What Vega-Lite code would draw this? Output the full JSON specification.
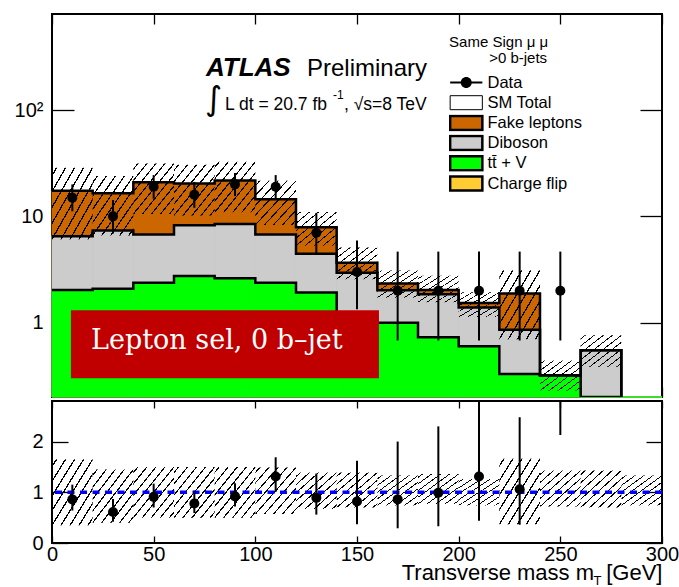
{
  "$schema": "https://vega.github.io/schema/vega-lite/v6.json",
  "padding": {"left": 13, "top": 12, "right": 5, "bottom": 0},
  "config": {
    "font": "Liberation Sans",
    "view": {"stroke": "black", "strokeWidth": 2},
    "axis": {"grid": false, "domain": false, "zindex": 2, "ticks": true, "tickColor": "#000000", "tickWidth": 1.3, "tickOpacity": 1, "labelColor": "black", "labelFont": "Liberation Sans", "labelFontSize": 20, "titleColor": "black", "titleFont": "Liberation Sans", "titleFontWeight": "normal"}
  },
  "datasets": {
    "bins": [
      {"lo":0,"hi":20,"mT":10,"data":15,"dlo":11.16,"dhi":19.97,"blo":6.1,"bhi":28.7,"ratio":0.86,"rlo":0.64,"rhi":1.15,"rblo":0.35,"rbhi":1.65},
      {"lo":20,"hi":40,"mT":30,"data":10,"dlo":6.88,"dhi":14.28,"blo":6.6,"bhi":23.9,"ratio":0.61,"rlo":0.42,"rhi":0.87,"rblo":0.40,"rbhi":1.45},
      {"lo":40,"hi":60,"mT":50,"data":19,"dlo":14.67,"dhi":24.44,"blo":10.5,"bhi":31.4,"ratio":0.91,"rlo":0.70,"rhi":1.17,"rblo":0.50,"rbhi":1.50},
      {"lo":60,"hi":80,"mT":70,"data":16,"dlo":12.03,"dhi":21.09,"blo":10.2,"bhi":30.6,"ratio":0.78,"rlo":0.59,"rhi":1.03,"rblo":0.50,"rbhi":1.50},
      {"lo":80,"hi":100,"mT":90,"data":20,"dlo":15.56,"dhi":25.56,"blo":10.9,"bhi":32.6,"ratio":0.92,"rlo":0.72,"rhi":1.18,"rblo":0.50,"rbhi":1.50},
      {"lo":100,"hi":120,"mT":110,"data":19,"dlo":14.67,"dhi":24.44,"blo":8.3,"bhi":21.6,"ratio":1.31,"rlo":1.01,"rhi":1.69,"rblo":0.57,"rbhi":1.49},
      {"lo":120,"hi":140,"mT":130,"data":7,"dlo":4.4,"dhi":10.78,"blo":5.3,"bhi":11.0,"ratio":0.89,"rlo":0.56,"rhi":1.37,"rblo":0.67,"rbhi":1.39},
      {"lo":140,"hi":160,"mT":150,"data":3,"dlo":1.34,"dhi":5.94,"blo":2.56,"bhi":5.1,"ratio":0.82,"rlo":0.37,"rhi":1.62,"rblo":0.70,"rbhi":1.39},
      {"lo":160,"hi":180,"mT":170,"data":2,"dlo":0.68,"dhi":4.66,"blo":1.72,"bhi":3.1,"ratio":0.86,"rlo":0.29,"rhi":2.0,"rblo":0.74,"rbhi":1.33},
      {"lo":180,"hi":200,"mT":190,"data":2,"dlo":0.68,"dhi":4.66,"blo":1.56,"bhi":2.76,"ratio":0.99,"rlo":0.33,"rhi":2.30,"rblo":0.77,"rbhi":1.36},
      {"lo":200,"hi":220,"mT":210,"data":2,"dlo":0.68,"dhi":4.66,"blo":1.13,"bhi":1.93,"ratio":1.31,"rlo":0.44,"rhi":3.05,"rblo":0.74,"rbhi":1.26},
      {"lo":220,"hi":240,"mT":230,"data":2,"dlo":0.68,"dhi":4.66,"blo":0.70,"bhi":3.12,"ratio":1.06,"rlo":0.36,"rhi":2.48,"rblo":0.37,"rbhi":1.66},
      {"lo":240,"hi":260,"mT":250,"data":2,"dlo":0.68,"dhi":4.66,"blo":0.23,"bhi":0.44,"ratio":6.25,"rlo":2.13,"rhi":14.6,"rblo":0.72,"rbhi":1.43},
      {"lo":260,"hi":280,"mT":270,"data":null,"dlo":null,"dhi":null,"blo":0.385,"bhi":0.76,"ratio":null,"rlo":null,"rhi":null,"rblo":0.70,"rbhi":1.43},
      {"lo":280,"hi":300,"mT":290,"data":null,"dlo":null,"dhi":null,"blo":null,"bhi":null,"ratio":null,"rlo":null,"rhi":null,"rblo":0.74,"rbhi":1.33}
    ],
    "stack": [
      {"lo":0,"hi":20,"process":"Fake leptons","cumulative":17.4},
      {"lo":20,"hi":40,"process":"Fake leptons","cumulative":16.5},
      {"lo":40,"hi":60,"process":"Fake leptons","cumulative":20.9},
      {"lo":60,"hi":80,"process":"Fake leptons","cumulative":20.4},
      {"lo":80,"hi":100,"process":"Fake leptons","cumulative":21.7},
      {"lo":100,"hi":120,"process":"Fake leptons","cumulative":14.5},
      {"lo":120,"hi":140,"process":"Fake leptons","cumulative":7.89},
      {"lo":140,"hi":160,"process":"Fake leptons","cumulative":3.66},
      {"lo":160,"hi":180,"process":"Fake leptons","cumulative":2.33},
      {"lo":180,"hi":200,"process":"Fake leptons","cumulative":2.03},
      {"lo":200,"hi":220,"process":"Fake leptons","cumulative":1.53},
      {"lo":220,"hi":240,"process":"Fake leptons","cumulative":1.88},
      {"lo":240,"hi":260,"process":"Fake leptons","cumulative":0.32},
      {"lo":260,"hi":280,"process":"Fake leptons","cumulative":0.55},
      {"lo":280,"hi":300,"process":"Fake leptons","cumulative":0.1},
      {"lo":0,"hi":20,"process":"Diboson","cumulative":6.5},
      {"lo":20,"hi":40,"process":"Diboson","cumulative":7.35},
      {"lo":40,"hi":60,"process":"Diboson","cumulative":6.74},
      {"lo":60,"hi":80,"process":"Diboson","cumulative":8.25},
      {"lo":80,"hi":100,"process":"Diboson","cumulative":8.48},
      {"lo":100,"hi":120,"process":"Diboson","cumulative":6.74},
      {"lo":120,"hi":140,"process":"Diboson","cumulative":4.44},
      {"lo":140,"hi":160,"process":"Diboson","cumulative":2.95},
      {"lo":160,"hi":180,"process":"Diboson","cumulative":2.02},
      {"lo":180,"hi":200,"process":"Diboson","cumulative":1.85},
      {"lo":200,"hi":220,"process":"Diboson","cumulative":1.39},
      {"lo":220,"hi":240,"process":"Diboson","cumulative":0.86},
      {"lo":240,"hi":260,"process":"Diboson","cumulative":0.32},
      {"lo":260,"hi":280,"process":"Diboson","cumulative":0.55},
      {"lo":280,"hi":300,"process":"Diboson","cumulative":0.1},
      {"lo":0,"hi":20,"process":"tt̄ + V","cumulative":2.03},
      {"lo":20,"hi":40,"process":"tt̄ + V","cumulative":2.09},
      {"lo":40,"hi":60,"process":"tt̄ + V","cumulative":2.38},
      {"lo":60,"hi":80,"process":"tt̄ + V","cumulative":2.75},
      {"lo":80,"hi":100,"process":"tt̄ + V","cumulative":2.62},
      {"lo":100,"hi":120,"process":"tt̄ + V","cumulative":2.38},
      {"lo":120,"hi":140,"process":"tt̄ + V","cumulative":1.92},
      {"lo":140,"hi":160,"process":"tt̄ + V","cumulative":1.15},
      {"lo":160,"hi":180,"process":"tt̄ + V","cumulative":1.0},
      {"lo":180,"hi":200,"process":"tt̄ + V","cumulative":0.73},
      {"lo":200,"hi":220,"process":"tt̄ + V","cumulative":0.60},
      {"lo":220,"hi":240,"process":"tt̄ + V","cumulative":0.33},
      {"lo":240,"hi":260,"process":"tt̄ + V","cumulative":0.32},
      {"lo":260,"hi":280,"process":"tt̄ + V","cumulative":0.1},
      {"lo":280,"hi":300,"process":"tt̄ + V","cumulative":0.1}
    ]
  },
  "spacing": 0,
  "vconcat": [
    {
      "width": 610,
      "height": 383,
      "resolve": {"axis": {"x": "independent", "y": "independent"}},
      "layer": [
        {
          "data": {"name": "stack"},
          "mark": {"type": "rect", "strokeWidth": 0.8},
          "encoding": {
            "x": {"field": "lo", "type": "quantitative", "scale": {"domain": [0, 300], "nice": false, "zero": false},
                  "axis": {"orient": "bottom", "values": [0,50,100,150,200,250,300], "labels": false, "title": null, "ticks": true, "tickColor": "#000000", "tickSize": -10}},
            "x2": {"field": "hi"},
            "y": {"field": "cumulative", "type": "quantitative", "scale": {"type": "log", "domain": [0.2, 800], "nice": false, "clamp": true},
                  "axis": {"orient": "left", "title": null, "values": [1,10,100], "ticks": true, "tickColor": "#000000", "tickSize": -22,
                           "labelExpr": "datum.value === 1 ? '1' : datum.value === 10 ? '10' : '10²'",
                           "labelPadding": 31}},
            "y2": {"datum": 0.2},
            "stroke": {"field": "process", "type": "nominal", "legend": null,
                       "scale": {"domain": ["Fake leptons", "Diboson", "tt̄ + V"], "range": ["#cc6600", "#cccccc", "#00ff00"]}},
            "fill": {"field": "process", "type": "nominal",
                     "scale": {"domain": ["Data", "SM Total", "Fake leptons", "Diboson", "tt̄ + V", "Charge flip"], "range": ["#000000", "#ffffff", "#cc6600", "#cccccc", "#00ff00", "#ffcc33"]},
                     "legend": {"orient": "none", "legendX": 397, "legendY": 60, "title": null,
                                "labelFont": "Liberation Sans", "labelFontSize": 16.5, "labelColor": "black",
                                "symbolSize": 196, "symbolType": "M-2.3,-1H2.3V1H-2.3Z", "symbolStrokeColor": "black", "symbolStrokeWidth": 2.5,
                                "symbolOffset": 9, "labelOffset": 13, "rowPadding": 3.2, "clipHeight": 17,
                                "encode": {"symbols": {"update": {
                                  "shape": {"signal": "datum.value === 'Data' ? 'M-2.3,-0.14H2.3V0.14H-2.3Z M0.79,0A0.79,0.79,0,1,1,-0.79,0A0.79,0.79,0,1,1,0.79,0Z' : 'M-2.3,-1H2.3V1H-2.3Z'"},
                                  "stroke": {"value": "#000000"},
                                  "strokeOpacity": {"value": 1},
                                  "strokeWidth": {"signal": "datum.value === 'Data' ? 0 : datum.value === 'SM Total' ? 1 : 2.5"},
                                  "fill": {"signal": "datum.value === 'Data' ? '#000000' : datum.value === 'SM Total' ? '#ffffff' : datum.value === 'Fake leptons' ? '#cc6600' : datum.value === 'Diboson' ? '#cccccc' : datum.value === 'Charge flip' ? '#ffcc33' : '#00ff00'"}
                                }}}}}
          }
        },
        {
          "data": {"name": "stack"},
          "mark": {"type": "line", "interpolate": "step-after", "color": "black", "strokeWidth": 2.5, "clip": true},
          "encoding": {
            "x": {"field": "lo", "type": "quantitative", "scale": {"domain": [0, 300], "nice": false, "zero": false},
                  "axis": {"orient": "top", "values": [0,50,100,150,200,250,300], "labels": false, "title": null, "ticks": true, "tickColor": "#000000", "tickSize": -10}},
            "y": {"field": "cumulative", "type": "quantitative", "scale": {"type": "log", "domain": [0.2, 800], "nice": false, "clamp": true},
                  "axis": {"orient": "right", "title": null, "labels": false, "values": [1,10,100], "ticks": true, "tickColor": "#000000", "tickSize": -22}},
            "detail": {"field": "process", "type": "nominal"}
          }
        },
        {
          "data": {"name": "bins"},
          "mark": {"type": "rect", "clip": true,
                   "fill": {"gradient": "linear", "x1": 0, "y1": 0, "x2": 1, "y2": 1, "stops": [
                     {"offset": 0, "color": "rgba(0,0,0,0)"},
                     {"offset": 0.0466, "color": "rgba(0,0,0,0)"}, {"offset": 0.0466, "color": "#000000"}, {"offset": 0.0646, "color": "#000000"}, {"offset": 0.0646, "color": "rgba(0,0,0,0)"},
                     {"offset": 0.1577, "color": "rgba(0,0,0,0)"}, {"offset": 0.1577, "color": "#000000"}, {"offset": 0.1757, "color": "#000000"}, {"offset": 0.1757, "color": "rgba(0,0,0,0)"},
                     {"offset": 0.2688, "color": "rgba(0,0,0,0)"}, {"offset": 0.2688, "color": "#000000"}, {"offset": 0.2868, "color": "#000000"}, {"offset": 0.2868, "color": "rgba(0,0,0,0)"},
                     {"offset": 0.3799, "color": "rgba(0,0,0,0)"}, {"offset": 0.3799, "color": "#000000"}, {"offset": 0.3979, "color": "#000000"}, {"offset": 0.3979, "color": "rgba(0,0,0,0)"},
                     {"offset": 0.4910, "color": "rgba(0,0,0,0)"}, {"offset": 0.4910, "color": "#000000"}, {"offset": 0.5090, "color": "#000000"}, {"offset": 0.5090, "color": "rgba(0,0,0,0)"},
                     {"offset": 0.6021, "color": "rgba(0,0,0,0)"}, {"offset": 0.6021, "color": "#000000"}, {"offset": 0.6201, "color": "#000000"}, {"offset": 0.6201, "color": "rgba(0,0,0,0)"},
                     {"offset": 0.7132, "color": "rgba(0,0,0,0)"}, {"offset": 0.7132, "color": "#000000"}, {"offset": 0.7312, "color": "#000000"}, {"offset": 0.7312, "color": "rgba(0,0,0,0)"},
                     {"offset": 0.8243, "color": "rgba(0,0,0,0)"}, {"offset": 0.8243, "color": "#000000"}, {"offset": 0.8423, "color": "#000000"}, {"offset": 0.8423, "color": "rgba(0,0,0,0)"},
                     {"offset": 0.9354, "color": "rgba(0,0,0,0)"}, {"offset": 0.9354, "color": "#000000"}, {"offset": 0.9534, "color": "#000000"}, {"offset": 0.9534, "color": "rgba(0,0,0,0)"},
                     {"offset": 1, "color": "rgba(0,0,0,0)"}]}},
          "encoding": {
            "x": {"field": "lo", "type": "quantitative", "scale": {"domain": [0, 300], "nice": false, "zero": false}, "axis": null},
            "x2": {"field": "hi"},
            "y": {"field": "blo", "type": "quantitative", "scale": {"type": "log", "domain": [0.2, 800], "nice": false, "clamp": true}, "axis": null},
            "y2": {"field": "bhi"}
          }
        },
        {
          "data": {"name": "bins"},
          "mark": {"type": "rule", "color": "black", "strokeWidth": 2, "clip": true},
          "encoding": {
            "x": {"field": "mT", "type": "quantitative", "scale": {"domain": [0, 300], "nice": false, "zero": false}, "axis": null},
            "y": {"field": "dlo", "type": "quantitative", "scale": {"type": "log", "domain": [0.2, 800], "nice": false, "clamp": true}, "axis": null},
            "y2": {"field": "dhi"}
          }
        },
        {
          "data": {"name": "bins"},
          "mark": {"type": "point", "filled": true, "color": "black", "opacity": 1, "size": 100, "clip": true},
          "encoding": {
            "x": {"field": "mT", "type": "quantitative", "scale": {"domain": [0, 300], "nice": false, "zero": false}, "axis": null},
            "y": {"field": "data", "type": "quantitative", "scale": {"type": "log", "domain": [0.2, 800], "nice": false, "clamp": true}, "axis": null}
          }
        },
        {
          "data": {"values": [{}]},
          "mark": {"type": "rect", "color": "#c00000"},
          "encoding": {
            "x": {"datum": 9.3, "type": "quantitative", "scale": {"domain": [0, 300], "nice": false, "zero": false}, "axis": null},
            "x2": {"datum": 160.8},
            "y": {"datum": 1.306, "type": "quantitative", "scale": {"type": "log", "domain": [0.2, 800], "nice": false, "clamp": true}, "axis": null},
            "y2": {"datum": 0.30}
          }
        },
        {
          "data": {"values": [{}]},
          "mark": {"type": "text", "text": "Lepton sel, 0 b–jet", "align": "left", "baseline": "alphabetic", "font": "DejaVu Serif", "fontSize": 27, "color": "white"},
          "encoding": {
            "x": {"datum": 19.2, "type": "quantitative", "scale": {"domain": [0, 300], "nice": false, "zero": false}, "axis": null},
            "y": {"datum": 0.561, "type": "quantitative", "scale": {"type": "log", "domain": [0.2, 800], "nice": false, "clamp": true}, "axis": null}
          }
        },
        {
          "data": {"values": [{}]},
          "mark": {"type": "text", "text": "ATLAS", "align": "left", "baseline": "alphabetic", "font": "Liberation Sans", "fontSize": 26, "fontStyle": "italic", "fontWeight": "bold", "color": "black"},
          "encoding": {
            "x": {"datum": 75.7, "type": "quantitative", "scale": {"domain": [0, 300], "nice": false, "zero": false}, "axis": null},
            "y": {"datum": 211, "type": "quantitative", "scale": {"type": "log", "domain": [0.2, 800], "nice": false, "clamp": true}, "axis": null}
          }
        },
        {
          "data": {"values": [{}]},
          "mark": {"type": "text", "text": "Preliminary", "align": "left", "baseline": "alphabetic", "font": "Liberation Sans", "fontSize": 24, "color": "black"},
          "encoding": {
            "x": {"datum": 125.4, "type": "quantitative", "scale": {"domain": [0, 300], "nice": false, "zero": false}, "axis": null},
            "y": {"datum": 211, "type": "quantitative", "scale": {"type": "log", "domain": [0.2, 800], "nice": false, "clamp": true}, "axis": null}
          }
        },
        {
          "data": {"values": [{}]},
          "mark": {"type": "text", "text": "∫", "align": "left", "baseline": "alphabetic", "font": "DejaVu Sans", "fontSize": 33, "color": "black"},
          "encoding": {
            "x": {"datum": 75.2, "type": "quantitative", "scale": {"domain": [0, 300], "nice": false, "zero": false}, "axis": null},
            "y": {"datum": 99, "type": "quantitative", "scale": {"type": "log", "domain": [0.2, 800], "nice": false, "clamp": true}, "axis": null}
          }
        },
        {
          "data": {"values": [{}]},
          "mark": {"type": "text", "text": "L dt = 20.7 fb", "align": "left", "baseline": "alphabetic", "font": "Liberation Sans", "fontSize": 17.5, "color": "black"},
          "encoding": {
            "x": {"datum": 85.1, "type": "quantitative", "scale": {"domain": [0, 300], "nice": false, "zero": false}, "axis": null},
            "y": {"datum": 99, "type": "quantitative", "scale": {"type": "log", "domain": [0.2, 800], "nice": false, "clamp": true}, "axis": null}
          }
        },
        {
          "data": {"values": [{}]},
          "mark": {"type": "text", "text": "-1", "align": "left", "baseline": "alphabetic", "font": "Liberation Sans", "fontSize": 12, "color": "black"},
          "encoding": {
            "x": {"datum": 138.2, "type": "quantitative", "scale": {"domain": [0, 300], "nice": false, "zero": false}, "axis": null},
            "y": {"datum": 125.6, "type": "quantitative", "scale": {"type": "log", "domain": [0.2, 800], "nice": false, "clamp": true}, "axis": null}
          }
        },
        {
          "data": {"values": [{}]},
          "mark": {"type": "text", "text": ", √s=8 TeV", "align": "left", "baseline": "alphabetic", "font": "Liberation Sans", "fontSize": 17.5, "color": "black"},
          "encoding": {
            "x": {"datum": 143.6, "type": "quantitative", "scale": {"domain": [0, 300], "nice": false, "zero": false}, "axis": null},
            "y": {"datum": 99, "type": "quantitative", "scale": {"type": "log", "domain": [0.2, 800], "nice": false, "clamp": true}, "axis": null}
          }
        },
        {
          "data": {"values": [{}]},
          "mark": {"type": "text", "text": "Same Sign μ μ", "align": "left", "baseline": "alphabetic", "font": "Liberation Sans", "fontSize": 15, "color": "black"},
          "encoding": {
            "x": {"datum": 195.3, "type": "quantitative", "scale": {"domain": [0, 300], "nice": false, "zero": false}, "axis": null},
            "y": {"datum": 395, "type": "quantitative", "scale": {"type": "log", "domain": [0.2, 800], "nice": false, "clamp": true}, "axis": null}
          }
        },
        {
          "data": {"values": [{}]},
          "mark": {"type": "text", "text": ">0 b-jets", "align": "left", "baseline": "alphabetic", "font": "Liberation Sans", "fontSize": 15, "color": "black"},
          "encoding": {
            "x": {"datum": 215, "type": "quantitative", "scale": {"domain": [0, 300], "nice": false, "zero": false}, "axis": null},
            "y": {"datum": 275, "type": "quantitative", "scale": {"type": "log", "domain": [0.2, 800], "nice": false, "clamp": true}, "axis": null}
          }
        }
      ]
    },
    {
      "width": 610,
      "height": 142,
      "resolve": {"axis": {"x": "independent", "y": "independent"}},
      "layer": [
        {
          "data": {"name": "bins"},
          "mark": {"type": "rect", "clip": true,
                   "fill": {"gradient": "linear", "x1": 0, "y1": 0, "x2": 1, "y2": 1, "stops": [
                     {"offset": 0, "color": "rgba(0,0,0,0)"},
                     {"offset": 0.0466, "color": "rgba(0,0,0,0)"}, {"offset": 0.0466, "color": "#000000"}, {"offset": 0.0646, "color": "#000000"}, {"offset": 0.0646, "color": "rgba(0,0,0,0)"},
                     {"offset": 0.1577, "color": "rgba(0,0,0,0)"}, {"offset": 0.1577, "color": "#000000"}, {"offset": 0.1757, "color": "#000000"}, {"offset": 0.1757, "color": "rgba(0,0,0,0)"},
                     {"offset": 0.2688, "color": "rgba(0,0,0,0)"}, {"offset": 0.2688, "color": "#000000"}, {"offset": 0.2868, "color": "#000000"}, {"offset": 0.2868, "color": "rgba(0,0,0,0)"},
                     {"offset": 0.3799, "color": "rgba(0,0,0,0)"}, {"offset": 0.3799, "color": "#000000"}, {"offset": 0.3979, "color": "#000000"}, {"offset": 0.3979, "color": "rgba(0,0,0,0)"},
                     {"offset": 0.4910, "color": "rgba(0,0,0,0)"}, {"offset": 0.4910, "color": "#000000"}, {"offset": 0.5090, "color": "#000000"}, {"offset": 0.5090, "color": "rgba(0,0,0,0)"},
                     {"offset": 0.6021, "color": "rgba(0,0,0,0)"}, {"offset": 0.6021, "color": "#000000"}, {"offset": 0.6201, "color": "#000000"}, {"offset": 0.6201, "color": "rgba(0,0,0,0)"},
                     {"offset": 0.7132, "color": "rgba(0,0,0,0)"}, {"offset": 0.7132, "color": "#000000"}, {"offset": 0.7312, "color": "#000000"}, {"offset": 0.7312, "color": "rgba(0,0,0,0)"},
                     {"offset": 0.8243, "color": "rgba(0,0,0,0)"}, {"offset": 0.8243, "color": "#000000"}, {"offset": 0.8423, "color": "#000000"}, {"offset": 0.8423, "color": "rgba(0,0,0,0)"},
                     {"offset": 0.9354, "color": "rgba(0,0,0,0)"}, {"offset": 0.9354, "color": "#000000"}, {"offset": 0.9534, "color": "#000000"}, {"offset": 0.9534, "color": "rgba(0,0,0,0)"},
                     {"offset": 1, "color": "rgba(0,0,0,0)"}]}},
          "encoding": {
            "x": {"field": "lo", "type": "quantitative", "scale": {"domain": [0, 300], "nice": false, "zero": false},
                  "axis": {"orient": "bottom", "values": [0,50,100,150,200,250,300], "labelFlush": false, "labelPadding": 8, "ticks": true, "tickColor": "#000000", "tickSize": -7,
                           "title": "Transverse mass m\u00a0\u00a0[GeV]", "titleAnchor": "end", "titleFontSize": 22, "titleBaseline": "alphabetic", "titleY": 36}},
            "x2": {"field": "hi"},
            "y": {"field": "rblo", "type": "quantitative", "scale": {"domain": [0, 2.8], "nice": false, "zero": false},
                  "axis": {"orient": "left", "title": null, "values": [0,1,2], "ticks": true, "tickColor": "#000000", "tickSize": -16,
                           "labelExpr": "datum.value === 0 ? '0' : datum.value === 1 ? '1' : '2'",
                           "labelPadding": 25}},
            "y2": {"field": "rbhi"}
          }
        },
        {
          "data": {"values": [{}]},
          "mark": {"type": "rule", "color": "#0000ff", "strokeWidth": 3.5, "strokeDash": [7, 5.5]},
          "encoding": {
            "y": {"datum": 1, "type": "quantitative", "scale": {"domain": [0, 2.8], "nice": false, "zero": false}, "axis": null}
          }
        },
        {
          "data": {"name": "bins"},
          "mark": {"type": "rule", "color": "black", "strokeWidth": 2, "clip": true},
          "encoding": {
            "x": {"field": "mT", "type": "quantitative", "scale": {"domain": [0, 300], "nice": false, "zero": false},
                  "axis": {"orient": "top", "values": [0,50,100,150,200,250,300], "labels": false, "title": null, "ticks": true, "tickColor": "#000000", "tickSize": -7}},
            "y": {"field": "rlo", "type": "quantitative", "scale": {"domain": [0, 2.8], "nice": false, "zero": false},
                  "axis": {"orient": "right", "title": null, "labels": false, "values": [0,1,2], "ticks": true, "tickColor": "#000000", "tickSize": -16}},
            "y2": {"field": "rhi"}
          }
        },
        {
          "data": {"name": "bins"},
          "mark": {"type": "point", "filled": true, "color": "black", "opacity": 1, "size": 100, "clip": true},
          "encoding": {
            "x": {"field": "mT", "type": "quantitative", "scale": {"domain": [0, 300], "nice": false, "zero": false}, "axis": null},
            "y": {"field": "ratio", "type": "quantitative", "scale": {"domain": [0, 2.8], "nice": false, "zero": false}, "axis": null}
          }
        },
        {
          "data": {"values": [{}]},
          "mark": {"type": "text", "text": "T", "align": "left", "baseline": "alphabetic", "font": "Liberation Sans", "fontSize": 13, "color": "black"},
          "encoding": {
            "x": {"datum": 266.3, "type": "quantitative", "scale": {"domain": [0, 300], "nice": false, "zero": false}, "axis": null},
            "y": {"datum": -0.82, "type": "quantitative", "scale": {"domain": [0, 2.8], "nice": false, "zero": false}, "axis": null}
          }
        }
      ]
    }
  ]
}
